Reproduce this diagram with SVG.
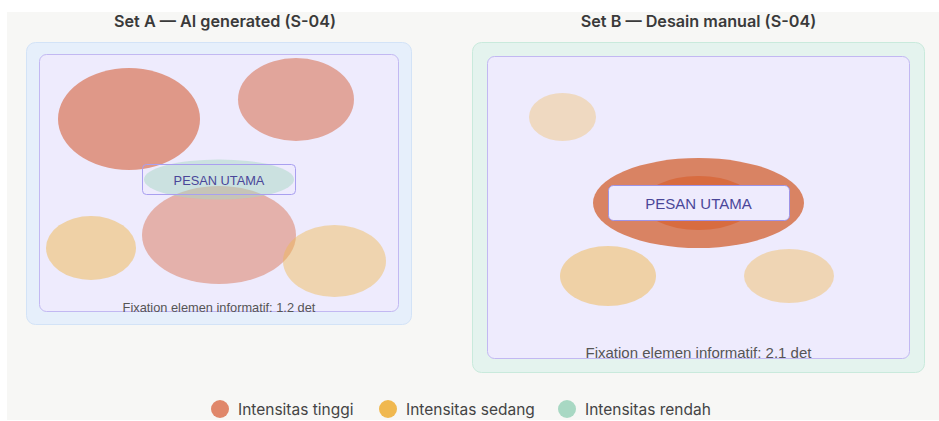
<svg xmlns="http://www.w3.org/2000/svg" width="939" height="421" viewBox="0 0 939 421">
<style>
.title{font-family:Inter,"Noto Sans",sans-serif;font-size:16.2px;font-weight:600;fill:#3a3a3a;text-anchor:middle}
.leg{font-family:Inter,"Noto Sans",sans-serif;font-size:15.5px;fill:#444;dominant-baseline:central}
.fix{font-family:"Liberation Sans",Arial,sans-serif;fill:#555;text-anchor:middle}
.pesan{font-family:"Liberation Sans",Arial,sans-serif;fill:#4a4699;text-anchor:middle;dominant-baseline:central}
.inner{fill:#eeebfd;stroke:#c2b8f2;stroke-width:1}
.hi{fill:#d9775a}
.mid{fill:#f0b84f}
.lo{fill:#a8d8c3}
</style>
<rect x="0" y="0" width="939" height="421" fill="#ffffff"/>
<rect x="7" y="12" width="932" height="408" fill="#f7f7f5"/>

<g id="setA">
  <text class="title" x="225" y="27">Set A — AI generated (S-04)</text>
  <rect x="26.5" y="42.5" width="385" height="282" rx="9" fill="#e6effb" stroke="#d3e3f7"/>
  <rect class="inner" x="39.5" y="54.5" width="359" height="257" rx="7"/>
  <ellipse class="hi" cx="129" cy="119" rx="71" ry="51" opacity="0.72"/>
  <ellipse class="hi" cx="296" cy="99.5" rx="58" ry="41.5" opacity="0.6"/>
  <ellipse class="hi" cx="219" cy="235" rx="77" ry="49" opacity="0.5"/>
  <ellipse class="mid" cx="91" cy="248" rx="45" ry="32" opacity="0.5"/>
  <ellipse class="mid" cx="334.5" cy="261" rx="51.5" ry="36" opacity="0.45"/>
  <ellipse class="lo" cx="219" cy="179.5" rx="75" ry="20" opacity="0.5"/>
  <g id="pesanA">
    <rect x="142.5" y="164.5" width="153" height="30" rx="4" fill="none" stroke="#a99ff0"/>
    <text class="pesan" x="219" y="180" font-size="12.8">PESAN UTAMA</text>
  </g>
  <text class="fix" x="219" y="312" font-size="12.8">Fixation elemen informatif: 1.2 det</text>
</g>

<g id="setB">
  <text class="title" x="698.5" y="27">Set B — Desain manual (S-04)</text>
  <rect x="472.5" y="42.5" width="452" height="330" rx="9" fill="#e4f3ee" stroke="#c9eadc"/>
  <rect class="inner" x="487.5" y="56.5" width="422" height="302" rx="7"/>
  <ellipse class="mid" cx="562.5" cy="117" rx="33.5" ry="24" opacity="0.35"/>
  <ellipse cx="698.5" cy="203" rx="105.5" ry="45" fill="#d98363"/>
  <ellipse cx="698.5" cy="203" rx="56" ry="27" fill="#d86c40"/>
  <ellipse class="mid" cx="608" cy="276" rx="48" ry="30" opacity="0.5"/>
  <ellipse class="mid" cx="789" cy="276" rx="45" ry="27" opacity="0.42"/>
  <g id="pesanB">
    <rect x="608.5" y="185.5" width="181" height="35" rx="5" fill="#eeebfd" stroke="#9e93e6"/>
    <text class="pesan" x="698.5" y="203.5" font-size="15">PESAN UTAMA</text>
  </g>
  <text class="fix" x="698.5" y="358" font-size="15">Fixation elemen informatif: 2.1 det</text>
</g>

<g id="legend">
  <circle cx="220" cy="409" r="9" fill="#e0876a"/>
  <text class="leg" x="238" y="409">Intensitas tinggi</text>
  <circle cx="388" cy="409" r="9" fill="#f0b84f"/>
  <text class="leg" x="406" y="409">Intensitas sedang</text>
  <circle cx="567" cy="409" r="9" fill="#a8d8c3"/>
  <text class="leg" x="585" y="409">Intensitas rendah</text>
</g>
</svg>
